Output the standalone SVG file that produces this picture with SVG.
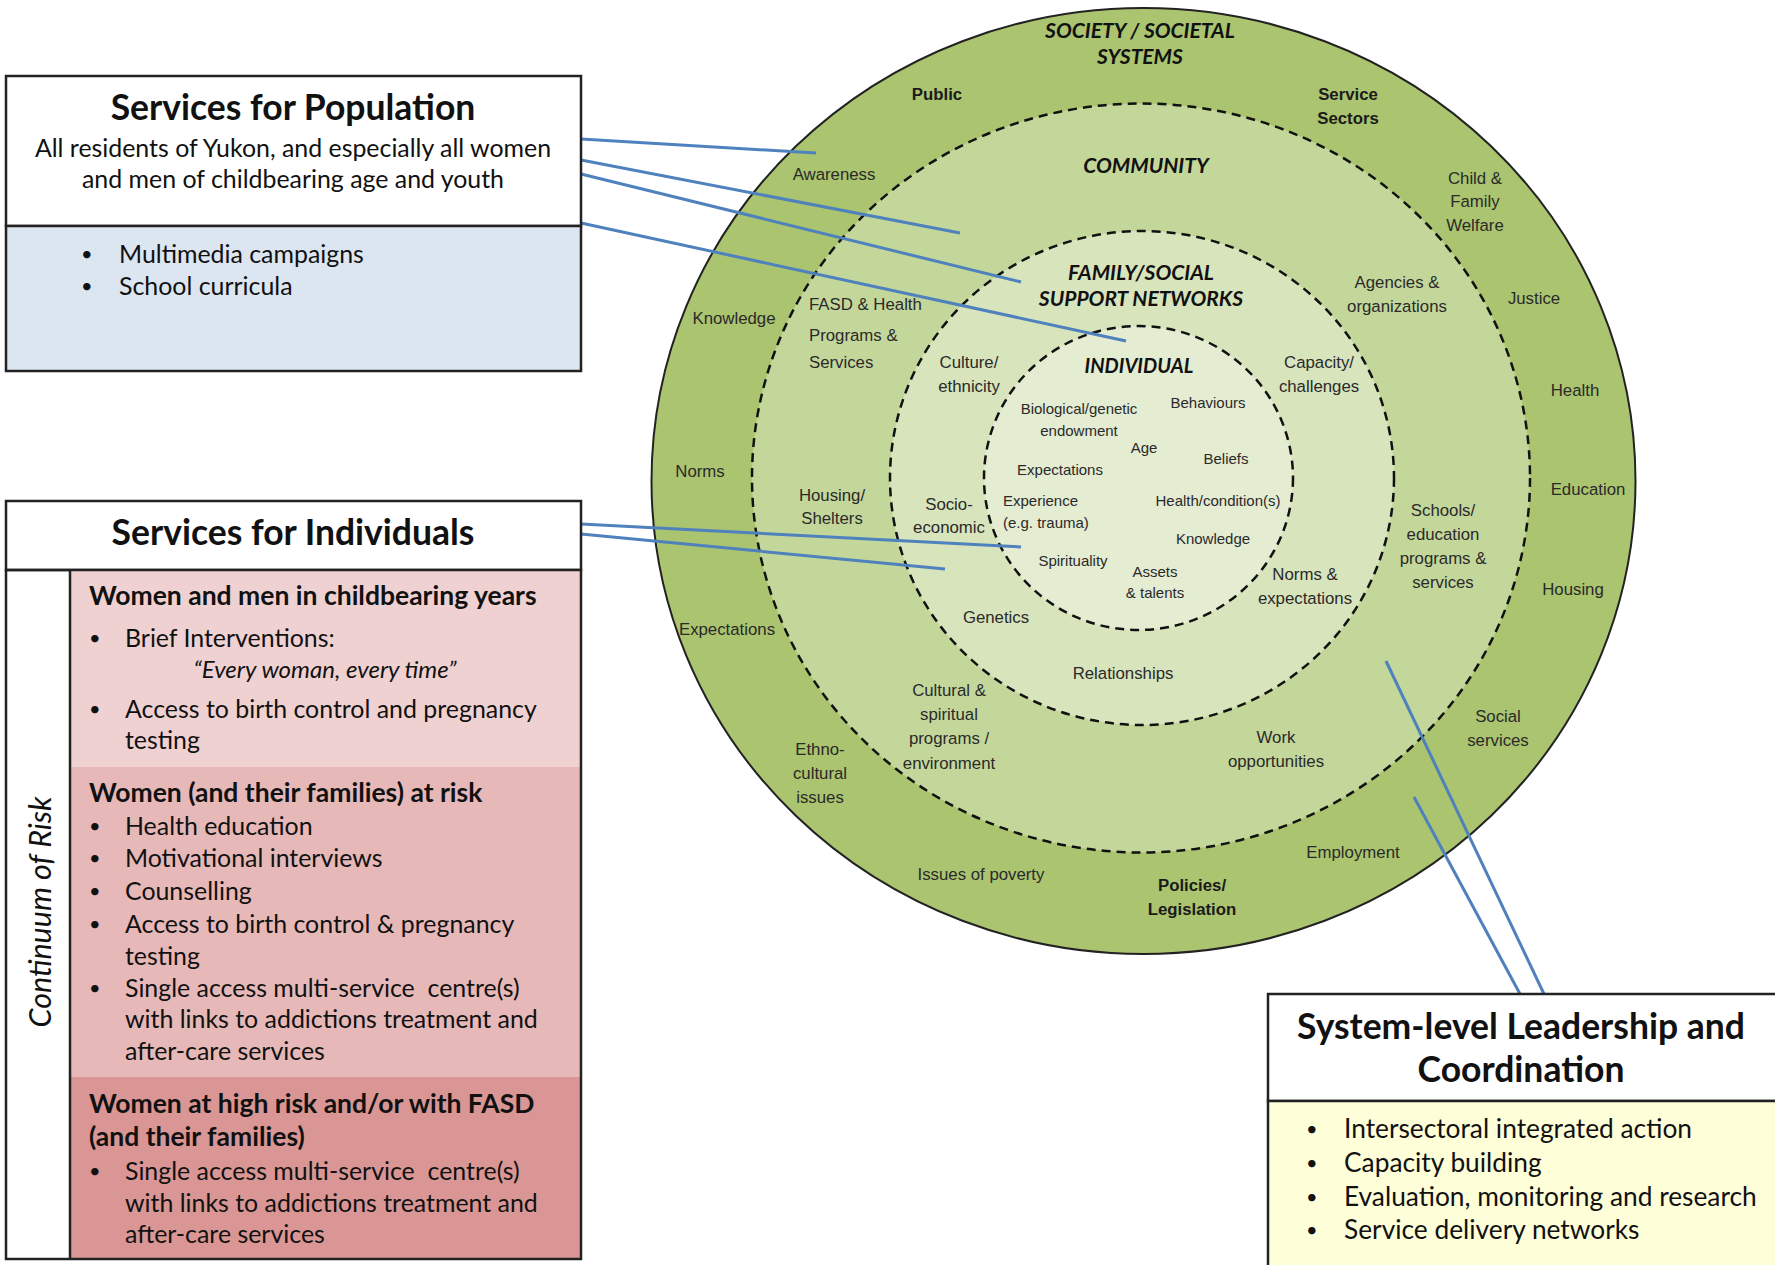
<svg xmlns="http://www.w3.org/2000/svg" width="1775" height="1265" viewBox="0 0 1775 1265">
<style>
 .bx{stroke:#222;stroke-width:2.5}
 .t{font-family:Lato,"Liberation Sans",sans-serif;fill:#111}
 .title{font-size:35.5px;font-weight:bold;text-anchor:middle}
 .body{font-size:24.9px}
 .bul{font-size:20px}
 .sys{font-size:26.3px}
 .hd{font-size:26.5px;font-weight:bold}
 .it{font-style:italic}
 .c{text-anchor:middle}
 .lb{font-family:"Liberation Sans",Arial,sans-serif;font-size:16.8px;fill:#2a2a2a;text-anchor:middle}
 .sm{font-size:15px}
 .b{font-weight:bold;fill:#1a1a1a}
 .st{text-anchor:start}
 .rt{font-family:Lato,"Liberation Sans",sans-serif;font-weight:bold;font-style:italic;font-size:21px;fill:#111;text-anchor:middle}
 .dash{stroke:#111;stroke-width:2.5;stroke-dasharray:9 6}
 .con line{stroke:#4f81bd;stroke-width:3}
</style>

<g id="model">
 <ellipse cx="1143.5" cy="481" rx="492" ry="473" fill="#aac46f" stroke="#222" stroke-width="2"/>
 <ellipse cx="1141" cy="478" rx="389" ry="374.5" fill="#c4d79b" class="dash"/>
 <ellipse cx="1142" cy="478" rx="252" ry="247" fill="#d8e4bc" class="dash"/>
 <ellipse cx="1138.5" cy="478" rx="154.5" ry="152" fill="#e4ecd2" class="dash"/>
</g>

<g id="ring-society">
 <text class="rt" x="1140" y="38">SOCIETY / SOCIETAL</text>
 <text class="rt" x="1140" y="64">SYSTEMS</text>
 <text class="lb b" x="937" y="100">Public</text>
 <text class="lb b" x="1348" y="100">Service</text>
 <text class="lb b" x="1348" y="124">Sectors</text>
 <text class="lb" x="834" y="180">Awareness</text>
 <text class="lb" x="1475" y="184">Child &amp;</text>
 <text class="lb" x="1475" y="207">Family</text>
 <text class="lb" x="1475" y="231">Welfare</text>
 <text class="lb" x="734" y="324">Knowledge</text>
 <text class="lb" x="1534" y="304">Justice</text>
 <text class="lb" x="1575" y="396">Health</text>
 <text class="lb" x="700" y="477">Norms</text>
 <text class="lb" x="1588" y="495">Education</text>
 <text class="lb" x="1573" y="595">Housing</text>
 <text class="lb" x="727" y="635">Expectations</text>
 <text class="lb" x="1498" y="722">Social</text>
 <text class="lb" x="1498" y="746">services</text>
 <text class="lb" x="820" y="755">Ethno-</text>
 <text class="lb" x="820" y="779">cultural</text>
 <text class="lb" x="820" y="803">issues</text>
 <text class="lb" x="1353" y="858">Employment</text>
 <text class="lb" x="981" y="880">Issues of poverty</text>
 <text class="lb b" x="1192" y="891">Policies/</text>
 <text class="lb b" x="1192" y="915">Legislation</text>
</g>

<g id="ring-community">
 <text class="rt" x="1146" y="173">COMMUNITY</text>
 <text class="lb st" x="809" y="310">FASD &amp; Health</text>
 <text class="lb st" x="809" y="341">Programs &amp;</text>
 <text class="lb st" x="809" y="368">Services</text>
 <text class="lb" x="1397" y="288">Agencies &amp;</text>
 <text class="lb" x="1397" y="312">organizations</text>
 <text class="lb" x="832" y="501">Housing/</text>
 <text class="lb" x="832" y="524">Shelters</text>
 <text class="lb" x="1443" y="516">Schools/</text>
 <text class="lb" x="1443" y="540">education</text>
 <text class="lb" x="1443" y="564">programs &amp;</text>
 <text class="lb" x="1443" y="588">services</text>
 <text class="lb" x="949" y="696">Cultural &amp;</text>
 <text class="lb" x="949" y="720">spiritual</text>
 <text class="lb" x="949" y="744">programs /</text>
 <text class="lb" x="949" y="769">environment</text>
 <text class="lb" x="1276" y="743">Work</text>
 <text class="lb" x="1276" y="767">opportunities</text>
</g>

<g id="ring-family">
 <text class="rt" x="1141" y="280">FAMILY/SOCIAL</text>
 <text class="rt" x="1141" y="306">SUPPORT NETWORKS</text>
 <text class="lb" x="969" y="368">Culture/</text>
 <text class="lb" x="969" y="392">ethnicity</text>
 <text class="lb" x="1319" y="368">Capacity/</text>
 <text class="lb" x="1319" y="392">challenges</text>
 <text class="lb" x="949" y="510">Socio-</text>
 <text class="lb" x="949" y="533">economic</text>
 <text class="lb" x="1305" y="580">Norms &amp;</text>
 <text class="lb" x="1305" y="604">expectations</text>
 <text class="lb" x="996" y="623">Genetics</text>
 <text class="lb" x="1123" y="679">Relationships</text>
</g>

<g id="ring-individual">
 <text class="rt" x="1139" y="373" style="font-size:20px">INDIVIDUAL</text>
 <text class="lb sm" x="1079" y="414">Biological/genetic</text>
 <text class="lb sm" x="1079" y="436">endowment</text>
 <text class="lb sm" x="1208" y="408">Behaviours</text>
 <text class="lb sm" x="1144" y="453">Age</text>
 <text class="lb sm" x="1226" y="464">Beliefs</text>
 <text class="lb sm" x="1060" y="475">Expectations</text>
 <text class="lb sm st" x="1003" y="506">Experience</text>
 <text class="lb sm st" x="1003" y="528">(e.g. trauma)</text>
 <text class="lb sm" x="1218" y="506">Health/condition(s)</text>
 <text class="lb sm" x="1213" y="544">Knowledge</text>
 <text class="lb sm" x="1073" y="566">Spirituality</text>
 <text class="lb sm" x="1155" y="577">Assets</text>
 <text class="lb sm" x="1155" y="598">&amp; talents</text>
</g>

<g id="connectors" class="con">
 <line x1="581" y1="139" x2="816" y2="153"/>
 <line x1="581" y1="160" x2="960" y2="233"/>
 <line x1="581" y1="174" x2="1021" y2="282"/>
 <line x1="581" y1="223" x2="1126" y2="341"/>
 <line x1="581" y1="524" x2="1021" y2="547"/>
 <line x1="581" y1="534" x2="945" y2="569"/>
 <line x1="1544" y1="994" x2="1386" y2="661"/>
 <line x1="1520" y1="994" x2="1414" y2="797"/>
</g>

<g id="services-population">
 <rect x="6" y="76" width="575" height="150" fill="#ffffff" class="bx"/>
 <rect x="6" y="226" width="575" height="145" fill="#dce6f1" class="bx"/>
 <text class="t title" x="293" y="120">Services for Population</text>
 <text class="t body c" x="293" y="157">All residents of Yukon, and especially all women</text>
 <text class="t body c" x="293" y="188">and men of childbearing age and youth</text>
 <text class="t bul" x="81" y="261">•</text>
 <text class="t body" x="119" y="263">Multimedia campaigns</text>
 <text class="t bul" x="81" y="293">•</text>
 <text class="t body" x="119" y="295">School curricula</text>
</g>

<g id="services-individuals">
 <rect x="6" y="501" width="575" height="69" fill="#ffffff" class="bx"/>
 <rect x="70" y="570" width="511" height="197" fill="#f0d1d1"/>
 <rect x="70" y="767" width="511" height="310" fill="#e6b8b8"/>
 <rect x="70" y="1077" width="511" height="182" fill="#d99694"/>
 <rect x="6" y="570" width="575" height="689" fill="none" class="bx"/>
 <line x1="70" y1="570" x2="70" y2="1259" class="bx"/>
 <text class="t title" x="293" y="545">Services for Individuals</text>
 <text class="t body it c" transform="translate(51,912) rotate(-90)" style="font-size:30.5px">Continuum of Risk</text>

 <text class="t hd" x="89" y="605">Women and men in childbearing years</text>
 <text class="t bul" x="89" y="645">•</text>
 <text class="t body" x="125" y="647">Brief Interventions:</text>
 <text class="t body it c" x="325" y="678" style="font-size:24px">“Every woman, every time”</text>
 <text class="t bul" x="89" y="716">•</text>
 <text class="t body" x="125" y="718">Access to birth control and pregnancy</text>
 <text class="t body" x="125" y="749">testing</text>

 <text class="t hd" x="89" y="802">Women (and their families) at risk</text>
 <text class="t bul" x="89" y="833">•</text>
 <text class="t body" x="125" y="835">Health education</text>
 <text class="t bul" x="89" y="865">•</text>
 <text class="t body" x="125" y="867">Motivational interviews</text>
 <text class="t bul" x="89" y="898">•</text>
 <text class="t body" x="125" y="900">Counselling</text>
 <text class="t bul" x="89" y="931">•</text>
 <text class="t body" x="125" y="933">Access to birth control &amp; pregnancy</text>
 <text class="t body" x="125" y="965">testing</text>
 <text class="t bul" x="89" y="995">•</text>
 <text class="t body" x="125" y="997" xml:space="preserve">Single access multi-service  centre(s)</text>
 <text class="t body" x="125" y="1028">with links to addictions treatment and</text>
 <text class="t body" x="125" y="1060">after-care services</text>

 <text class="t hd" x="89" y="1113">Women at high risk and/or with FASD</text>
 <text class="t hd" x="89" y="1146">(and their families)</text>
 <text class="t bul" x="89" y="1178">•</text>
 <text class="t body" x="125" y="1180" xml:space="preserve">Single access multi-service  centre(s)</text>
 <text class="t body" x="125" y="1212">with links to addictions treatment and</text>
 <text class="t body" x="125" y="1243">after-care services</text>
</g>

<g id="system-leadership">
 <rect x="1268" y="994" width="520" height="107" fill="#ffffff" class="bx"/>
 <rect x="1268" y="1101" width="520" height="180" fill="#fefed9" class="bx"/>
 <text class="t title" x="1521" y="1039">System-level Leadership and</text>
 <text class="t title" x="1521" y="1082">Coordination</text>
 <text class="t bul" x="1306" y="1136">•</text>
 <text class="t sys" x="1344" y="1138">Intersectoral integrated action</text>
 <text class="t bul" x="1306" y="1170">•</text>
 <text class="t sys" x="1344" y="1172">Capacity building</text>
 <text class="t bul" x="1306" y="1204">•</text>
 <text class="t sys" x="1344" y="1206">Evaluation, monitoring and research</text>
 <text class="t bul" x="1306" y="1237">•</text>
 <text class="t sys" x="1344" y="1239">Service delivery networks</text>
</g>
</svg>
